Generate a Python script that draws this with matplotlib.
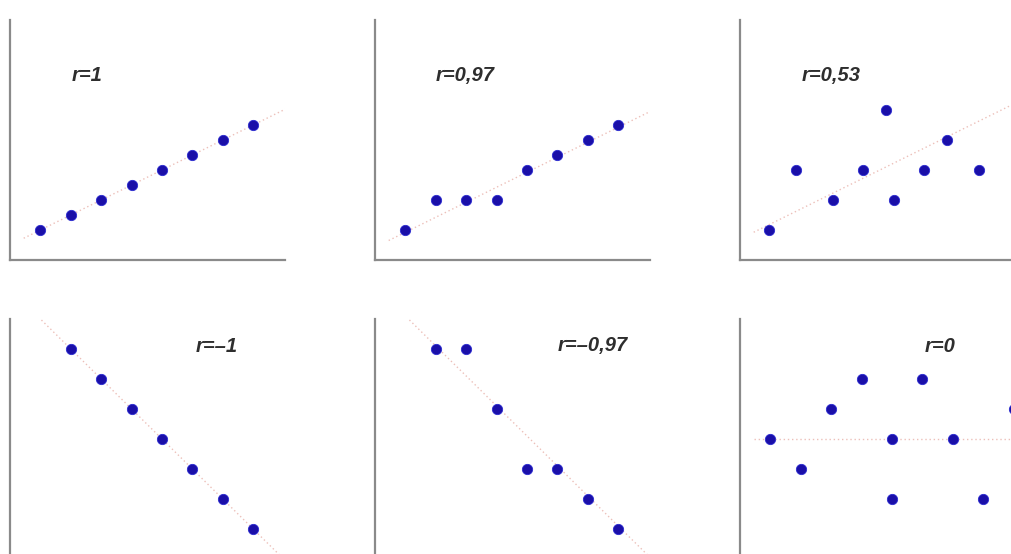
import numpy as np
import matplotlib.pyplot as plt

labels = ["r=1", "r=0,97", "r=0,53", "r=–1", "r=–0,97", "r=0"]

x1 = [1, 2, 3, 4, 5, 6, 7, 8]
y1 = [2, 3, 4, 5, 6, 7, 8, 9]

x2 = [1, 2, 3, 4, 5, 6, 7, 8]
y2 = [2, 4, 4, 4, 6, 7, 8, 9]

x3 = [0.95, 1.85, 3.05, 4.05, 4.8, 5.05, 6.05, 6.8, 7.85]
y3 = [2, 6, 4, 6, 10, 4, 6, 8, 6]

x4 = [2, 3, 4, 5, 6, 7, 8]
y4 = [14, 12, 10, 8, 6, 4, 2]

x5 = [2, 3, 4, 5, 6, 7, 8]
y5 = [14, 14, 10, 6, 6, 4, 2]

x6 = [1, 2, 3, 4, 5, 5, 6, 7, 8, 9]
y6 = [8, 6, 10, 12, 8, 4, 12, 8, 4, 10]

# trend lines as drawn in the picture (slope, intercept)
trend_slope = [1.0, 1.0, 1.0, -2.0, -2.0, 0.0]
trend_icpt = [1.0, 0.85, 1.4, 18.0, 18.2, 8.0]

xs = [x1, x2, x3, x4, x5, x6]
ys = [y1, y2, y3, y4, y5, y6]

# label positions in data units
label_pos = [(2.53, 12.3), (2.96, 12.3), (2.99, 12.3),
             (6.81, 14.2), (7.17, 14.2), (6.58, 14.2)]

W, H = 1011, 554
fig = plt.figure(figsize=(W / 100, H / 100), dpi=100)

col_left = [10, 375, 740]
row_base = [260, 559]
aw, ah = 275, 240

for k in range(6):
    r, c = divmod(k, 3)
    ax = fig.add_axes([col_left[c] / W, (H - row_base[r]) / H, aw / W, ah / H])
    ax.set_xlim(0, aw / 30.4)
    ax.set_ylim(0, ah / 15)
    for s in ["top", "right"]:
        ax.spines[s].set_visible(False)
    for s in ["left", "bottom"]:
        ax.spines[s].set_color("#8a8a8a")
        ax.spines[s].set_linewidth(1.6)
    ax.set_xticks([])
    ax.set_yticks([])
    ax.patch.set_alpha(0)

    lx = np.array([0.45, 9.2])
    ax.plot(lx, trend_slope[k] * lx + trend_icpt[k], linestyle=(0, (1, 2)),
            color="#e8b0a8", linewidth=1.0, alpha=0.8, zorder=1)
    ax.scatter(xs[k], ys[k], s=55, color="#1a0fa8", edgecolors="#2a2ad0",
               linewidths=0.6, zorder=3, clip_on=False)
    tx, ty = label_pos[k]
    ax.text(tx, ty, labels[k], ha="center", va="center", fontsize=14.5,
            style="italic", weight="bold", color="#2e2e2e",
            family="Liberation Sans")

fig.savefig("out.png", dpi=100)
